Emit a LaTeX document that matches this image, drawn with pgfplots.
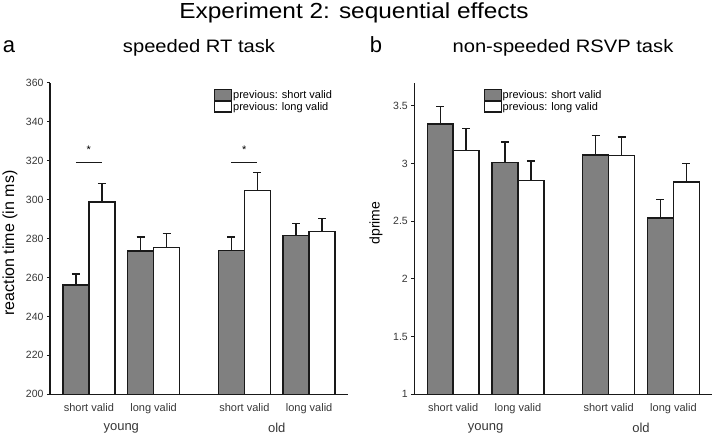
\documentclass[border=0pt]{standalone}
\usepackage{pgfplots}
\pgfplotsset{compat=1.18}
\usepackage{fontspec}
\setmainfont{Liberation Sans}
\newfontfamily\widefont[FakeStretch=1.12]{Liberation Sans}

\definecolor{bargray}{RGB}{128,128,128}
\definecolor{edge}{RGB}{25,25,25}
\definecolor{ticktext}{RGB}{55,55,55}

\pgfplotsset{
  panel/.style={
    scale only axis, width=298pt, height=311.6pt,
    axis lines*=left, axis line style={edge, line width=1.3pt},
    xmin=-0.6, xmax=4.0,
    xtick={0,1,2.4,3.4},
    xticklabels={short valid, long valid, short valid, long valid},
    major x tick style={draw=none},
    tick align=outside, major tick length=3pt,
    ytick style={edge, line width=1pt},
    tick label style={font=\fontsize{10.5}{12}\selectfont, text=ticktext},
    xticklabel style={font=\fontsize{11}{13}\selectfont, text=ticktext, yshift=-3pt},
    legend style={draw=none, fill=none, font=\fontsize{11}{13}\selectfont,
      anchor=north west, inner sep=0pt, row sep=0pt, nodes={inner sep=1pt}},
    legend cell align=left,
    /pgf/number format/assume math mode=true,
    clip mode=individual,
  },
  barimg/.style={legend image code/.code={\draw[##1, line width=1.1pt] (0pt,-5pt) rectangle (17pt,5.5pt);}},
  errs/.style={error bars/y dir=plus, error bars/y explicit,
    error bars/error bar style={edge, line width=1.4pt},
    error bars/error mark options={rotate=90, mark size=4pt, edge, line width=1.4pt}},
  gbar/.style={ybar, bar width=0.4, bar shift=0pt, fill=bargray, draw=edge, line width=1.5pt, barimg, errs},
  wbar/.style={ybar, bar width=0.4, bar shift=0pt, fill=white, draw=edge, line width=1.5pt, barimg, errs},
}

\begin{document}
\begin{tikzpicture}
% panel a: speeded RT task
\begin{axis}[panel, at={(0pt,0pt)}, anchor=south west,
  ymin=200, ymax=360, ytick={200,220,...,360},
  legend style={at={(0.550,0.980)}}]
\addplot[gbar] coordinates {(-0.2,256.1) +- (0,5.7) (0.8,273.7) +- (0,7.1) (2.2,273.9) +- (0,6.9) (3.2,281.6) +- (0,6.0)};
\addplot[wbar] coordinates {(0.2,298.7) +- (0,9.6) (1.2,275.5) +- (0,7.0) (2.6,304.7) +- (0,9.3) (3.6,283.5) +- (0,6.9)};
\legend{previous: short valid, previous: long valid}
\draw[edge, line width=0.8pt] (axis cs:-0.2,319.1) -- (axis cs:0.2,319.1);
\draw[edge, line width=0.8pt] (axis cs:2.2,319.1) -- (axis cs:2.6,319.1);
\node[anchor=base, font=\fontsize{11}{13}\selectfont] at (axis cs:0,323.4) {*};
\node[anchor=base, font=\fontsize{11}{13}\selectfont] at (axis cs:2.4,323.4) {*};
\node[font=\fontsize{13}{15}\selectfont, text=ticktext] at (axis cs:0.5,200) [yshift=-34pt] {young};
\node[font=\fontsize{13}{15}\selectfont, text=ticktext] at (axis cs:2.9,200) [yshift=-34pt] {old};
\end{axis}

% panel b: non-speeded RSVP task
\begin{axis}[panel, at={(364.3pt,0pt)}, anchor=south west,
  ymin=1, ymax=3.7, ytick={1,1.5,...,3.5},
  legend style={at={(0.232,0.980)}}]
\addplot[gbar] coordinates {(-0.2,3.342) +- (0,0.15) (0.8,3.007) +- (0,0.18) (2.2,3.074) +- (0,0.17) (3.2,2.528) +- (0,0.16)};
\addplot[wbar] coordinates {(0.2,3.114) +- (0,0.19) (1.2,2.851) +- (0,0.17) (2.6,3.071) +- (0,0.16) (3.6,2.840) +- (0,0.16)};
\legend{previous: short valid, previous: long valid}
\node[font=\fontsize{13}{15}\selectfont, text=ticktext] at (axis cs:0.5,1) [yshift=-34pt] {young};
\node[font=\fontsize{13}{15}\selectfont, text=ticktext] at (axis cs:2.9,1) [yshift=-34pt] {old};
\end{axis}

% titles and labels
\node[anchor=base, font=\widefont\fontsize{21.8}{24}\selectfont] at (304pt,375.3pt) {Experiment 2: sequential effects};
\node[anchor=base, font=\widefont\fontsize{18}{20}\selectfont] at (149pt,341.3pt) {speeded RT task};
\node[anchor=base, font=\widefont\fontsize{18}{20}\selectfont] at (513pt,341.3pt) {non-speeded RSVP task};
\node[anchor=base, font=\fontsize{22}{24}\selectfont] at (-41pt,341.3pt) {a};
\node[anchor=base, font=\fontsize{22}{24}\selectfont] at (326pt,341.3pt) {b};
\node[rotate=90, font=\fontsize{16}{18}\selectfont] at (-40pt,151.3pt) {reaction time (in ms)};
\node[rotate=90, font=\fontsize{14}{16}\selectfont] at (326pt,171.3pt) {dprime};

\pgfresetboundingbox
\path[use as bounding box] (-50pt,-40.7pt) rectangle (664pt,394.3pt);
\end{tikzpicture}
\end{document}
